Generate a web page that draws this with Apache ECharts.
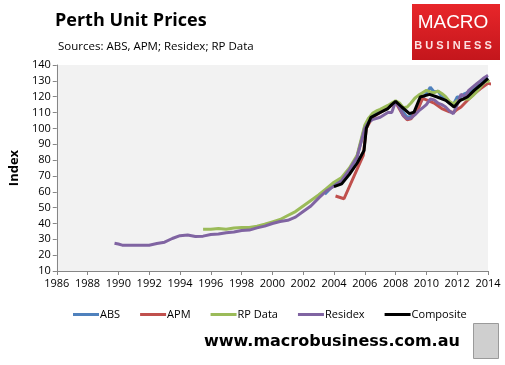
<!DOCTYPE html>
<html><head><meta charset="utf-8">
<script src="https://cdn.jsdelivr.net/npm/echarts@6/dist/echarts.min.js"></script>
<style>html,body{margin:0;padding:0;background:#fff}#c{width:505px;height:365px}</style>
</head><body><div id="c"></div>
<script>
// Tick settings
const xTicks = {min: 1986, max: 2014, step: 2};
const yTicks = {min: 10, max: 140, step: 10};
const seriesNames = ['ABS', 'APM', 'RP Data', 'Residex', 'Composite'];

// [year, index]
const absData = [[2003.4,58.4],[2003.75,62],[2004,64.5],[2004.5,68],[2005,73],[2005.5,82],[2006,101],[2006.5,108],[2007,110.5],[2007.5,113],[2008,117],[2008.5,110],[2008.75,107],[2009,107.5],[2009.5,114],[2009.75,119],[2010,122],[2010.25,126],[2010.5,123],[2010.75,123.5],[2011,120],[2011.5,116],[2011.75,115],[2012,119.8],[2012.25,120],[2012.5,122],[2013,124],[2013.5,128],[2013.75,131],[2014,132]];
const apmData = [[2004.1,57.3],[2004.65,55.6],[2005.9,83],[2006.1,100],[2006.5,107],[2007,110],[2007.5,113],[2008,116.5],[2008.5,108],[2008.75,105.5],[2009,106],[2009.5,113],[2009.75,119],[2010,118],[2010.5,116],[2011,112.5],[2011.5,110.5],[2011.75,110],[2012,112],[2012.25,113.5],[2012.5,116],[2013,121],[2013.5,125],[2014,128.4],[2014.2,128]];
const rpData = [[1995.5,36.3],[1996,36.4],[1996.5,36.8],[1997,36.4],[1997.5,37.2],[1998,37.5],[1998.5,37.5],[1999,38.3],[1999.5,39.5],[2000,41],[2000.5,42.5],[2001,45],[2001.5,47.5],[2002,51],[2002.5,54.5],[2003,58],[2003.5,62],[2004,66],[2004.5,69],[2005,75],[2005.5,83],[2006,102],[2006.25,106.5],[2006.5,109.5],[2006.75,111],[2007,112],[2007.5,114.5],[2007.75,116],[2008,117.5],[2008.25,116],[2008.5,113],[2008.75,113.5],[2009,116],[2009.25,119],[2009.5,121],[2009.75,122.5],[2010,124],[2010.25,123],[2010.5,122.5],[2010.75,123.5],[2011,122],[2011.25,120],[2011.5,117],[2011.75,115.5],[2012,117.5],[2012.25,118],[2012.5,118.5],[2012.75,118.5],[2013,120.5],[2013.25,123],[2013.5,126],[2013.75,129],[2014,130],[2014.1,129.5]];
const residexData = [[1989.75,27.5],[1990,27],[1990.25,26.3],[1990.5,26.2],[1991,26.2],[1991.5,26.2],[1992,26.3],[1992.5,27.3],[1993,28.2],[1993.5,30.5],[1994,32.3],[1994.5,32.7],[1995,31.8],[1995.5,32],[1996,33],[1996.5,33.3],[1997,34.2],[1997.5,34.6],[1998,35.6],[1998.5,35.8],[1999,37.2],[1999.5,38.3],[2000,40],[2000.5,41.2],[2001,42],[2001.5,44],[2002,47.5],[2002.5,51],[2003,56],[2003.5,60.5],[2004,63.5],[2004.5,67],[2005,74],[2005.5,82],[2006,100],[2006.25,104],[2006.5,105.5],[2007,107],[2007.5,110],[2007.75,110],[2008,117],[2008.25,113],[2008.5,108],[2008.75,106],[2009,106.5],[2009.25,108.5],[2009.5,111],[2009.75,113],[2010,115],[2010.25,118.5],[2010.5,118],[2010.75,116],[2011,115],[2011.25,113.5],[2011.5,111],[2011.75,109.3],[2012,115],[2012.25,121.5],[2012.5,120],[2012.75,124],[2013,126],[2013.25,128],[2013.5,130],[2013.75,132],[2014,133.5]];
const compositeData = [[2004,63.2],[2004.5,65],[2005,71],[2005.5,78],[2005.95,86],[2006.1,100],[2006.4,107],[2007,110],[2007.5,112.5],[2007.75,115],[2008,117],[2008.4,113.5],[2008.9,109.3],[2009.2,110.3],[2009.6,119.8],[2010.2,121.5],[2010.7,119.8],[2011.26,117.7],[2011.8,113.5],[2012.2,117.7],[2012.66,119.8],[2013.1,124],[2013.5,127.2],[2014,131.5]];

const colors = ['#4f81bd', '#c0504d', '#9bbb59', '#8064a2', '#000000'];
const allData = [absData, apmData, rpData, residexData, compositeData];

const chart = echarts.init(document.getElementById('c'), null, {renderer: 'canvas'});
const font = "'Open Sans', sans-serif";
chart.setOption({
  animation: false,
  backgroundColor: '#ffffff',
  color: colors,
  title: [
    {text: 'Perth Unit Prices', left: 50, top: 7, textStyle: {fontFamily: font, fontWeight: 'bold', fontSize: 18, color: '#000'}},
    {text: 'Sources: ABS, APM; Residex; RP Data', left: 53, top: 36, textStyle: {fontFamily: font, fontWeight: 'normal', fontSize: 11.5, color: '#000'}}
  ],
  grid: {left: 53, right: 17, top: 65, bottom: 94, backgroundColor: '#f2f2f2', show: true, borderWidth: 0},
  legend: {
    data: seriesNames, bottom: 40, left: 68, icon: 'rect', itemWidth: 26, itemHeight: 3, itemGap: 20,
    textStyle: {fontFamily: font, fontSize: 11, color: '#000', padding: [0, 0, 0, -4]}
  },
  xAxis: {
    type: 'value', min: xTicks.min, max: xTicks.max, interval: xTicks.step,
    axisLine: {lineStyle: {color: '#868686'}},
    axisTick: {show: true, length: 4, lineStyle: {color: '#868686'}},
    splitLine: {show: false},
    axisLabel: {fontFamily: font, fontSize: 11, color: '#000', margin: 7, formatter: v => String(v)}
  },
  yAxis: {
    type: 'value', min: yTicks.min, max: yTicks.max, interval: yTicks.step,
    name: 'Index', nameLocation: 'middle', nameGap: 34, nameRotate: 90,
    nameTextStyle: {fontFamily: font, fontWeight: 'bold', fontSize: 13, color: '#000'},
    axisLine: {show: true, lineStyle: {color: '#868686'}},
    axisTick: {show: true, length: 4, lineStyle: {color: '#868686'}},
    splitLine: {show: false},
    axisLabel: {fontFamily: font, fontSize: 11, color: '#000', margin: 6}
  },
  series: seriesNames.map((n, i) => ({
    name: n, type: 'line', data: allData[i], showSymbol: false, symbol: 'none',
    lineStyle: {width: 3, color: colors[i]}, z: 2 + i
  })),
  graphic: [
    {type: 'rect', left: 412, top: 4, shape: {width: 88, height: 56},
      style: {fill: new echarts.graphic.LinearGradient(0, 0, 0, 1, [{offset: 0, color: '#e8262a'}, {offset: 1, color: '#c4161c'}])}},
    {type: 'text', x: 453, y: 13, style: {text: 'MACRO', fill: '#fff', textAlign: 'center', font: '19px "Liberation Sans Narrow", "Liberation Sans", sans-serif'}},
    {type: 'text', x: 453, y: 40, style: {text: 'B U S I N E S S', fill: '#fde0e0', textAlign: 'center', font: 'bold 11px "Liberation Sans", sans-serif'}},
    {type: 'text', left: 204, top: 334, style: {text: 'www.macrobusiness.com.au', fill: '#000', font: 'bold 16px "DejaVu Sans", sans-serif'}},
    {type: 'rect', left: 473, top: 323, shape: {width: 25, height: 35}, style: {fill: '#cfcfcf', stroke: '#9a9a9a', lineWidth: 1}}
  ]
});
</script></body></html>
